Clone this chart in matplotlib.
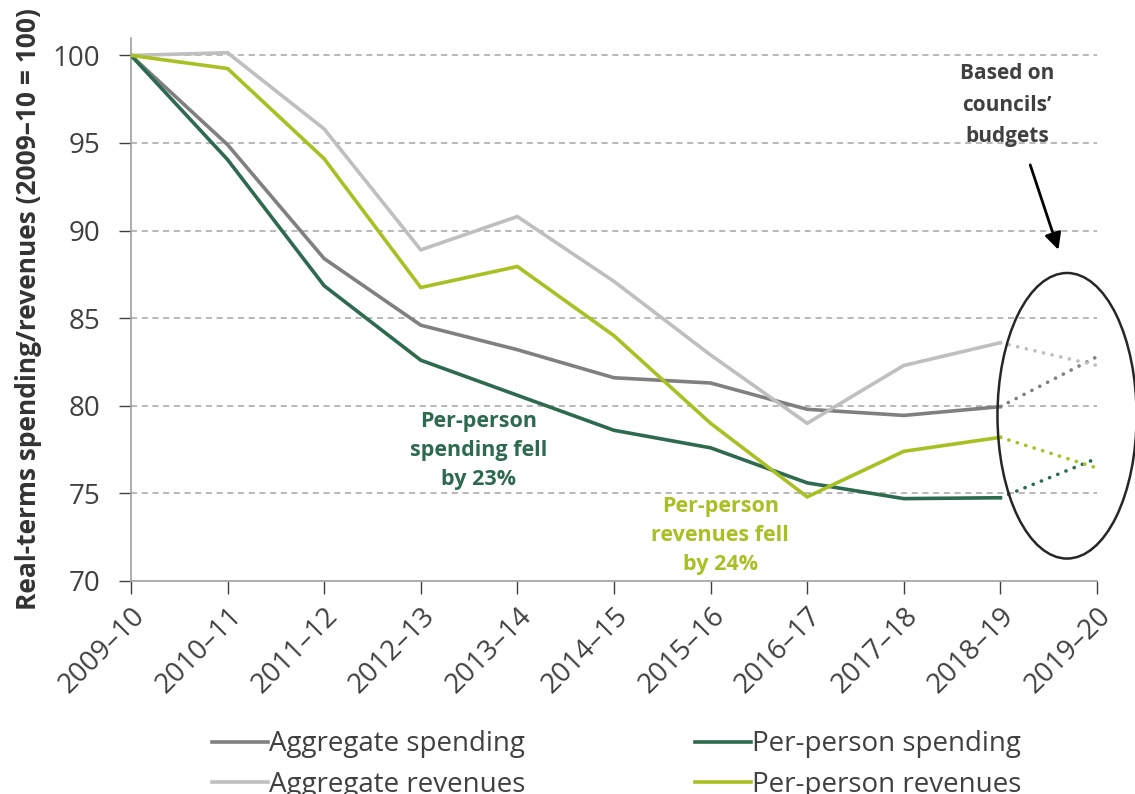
import matplotlib.pyplot as plt
from matplotlib.patches import Ellipse

plt.rcParams['font.family'] = ['Open Sans', 'DejaVu Sans']

years = ['2009–10', '2010–11', '2011–12', '2012–13', '2013–14', '2014–15',
         '2015–16', '2016–17', '2017–18', '2018–19', '2019–20']

# outturn up to 2018-19, last point is budgeted (dotted)
agg_spending = [100, 94.9, 88.4, 84.6, 83.2, 81.6, 81.3, 79.8, 79.45, 79.95, 82.8]
agg_revenues = [100, 100.15, 95.8, 88.9, 90.8, 87.1, 82.9, 79.0, 82.3, 83.6, 82.3]
pp_spending = [100, 94.05, 86.85, 82.6, 80.6, 78.6, 77.6, 75.6, 74.7, 74.75, 77.0]
pp_revenues = [100, 99.25, 94.1, 86.75, 87.95, 84.0, 79.0, 74.8, 77.4, 78.2, 76.45]

series = [
    ('Aggregate spending', agg_spending, '#808080'),
    ('Aggregate revenues', agg_revenues, '#BFBFBF'),
    ('Per-person spending', pp_spending, '#2D6A4F'),
    ('Per-person revenues', pp_revenues, '#A9C023'),
]

fig = plt.figure(figsize=(11.35, 7.94), dpi=100)
ax = fig.add_axes([0.1154, 0.2683, 0.8511, 0.684])

x = list(range(len(years)))
for label, vals, col in series:
    ax.plot(x[:-1], vals[:-1], color=col, lw=2.6, label=label,
            solid_joinstyle='miter', zorder=3)
    ax.plot(x[-2:], vals[-2:], color=col, lw=2.6, linestyle=(0, (0.05, 2.4)),
            dash_capstyle='round', zorder=3)

ax.set_xlim(0, 10)
ax.set_ylim(70, 101)
ax.set_yticks([70, 75, 80, 85, 90, 95, 100])
ax.set_xticks(x)
ax.set_xticklabels(years, rotation=45, ha='right', rotation_mode='anchor')
ax.tick_params(axis='both', labelsize=20, colors='#404040', length=9,
               width=1, direction='out')
ax.tick_params(axis='x', pad=6)
ax.tick_params(axis='y', pad=13)
for t in ax.get_xticklabels() + ax.get_yticklabels():
    t.set_color('#404040')
for tl in ax.xaxis.get_ticklines() + ax.yaxis.get_ticklines():
    tl.set_color('#A0A0A0')

for y in [75, 80, 85, 90, 95, 100]:
    ax.axhline(y, color='#A6A6A6', lw=1.1, linestyle=(0, (4, 3)), zorder=1)

for s in ['top', 'right']:
    ax.spines[s].set_visible(False)
for s in ['left', 'bottom']:
    ax.spines[s].set_color('#A0A0A0')
    ax.spines[s].set_linewidth(1.2)

ax.set_ylabel('Real-terms spending/revenues (2009–10 = 100)', fontsize=19,
              fontweight='bold', color='#333333', labelpad=8)

ax.text(3.6, 77.45, 'Per-person\nspending fell\nby 23%', color='#2D6A4F',
        fontsize=15.5, fontweight='bold', ha='center', va='center',
        linespacing=1.5)
ax.text(6.1, 72.6, 'Per-person\nrevenues fell\nby 24%', color='#A9C023',
        fontsize=15.5, fontweight='bold', ha='center', va='center',
        linespacing=1.5)
ax.text(9.07, 97.15, 'Based on\ncouncils\u2019\nbudgets', color='#404040',
        fontsize=15, fontweight='bold', ha='center', va='center',
        linespacing=1.65)

ax.annotate('', xy=(9.61, 88.75), xytext=(9.3, 93.9),
            arrowprops=dict(arrowstyle='-|>', color='black', lw=2,
                            mutation_scale=25), annotation_clip=False)

ell = Ellipse((9.69, 79.43), width=1.44, height=16.3, fill=False,
              edgecolor='#262626', lw=1.8, clip_on=False, zorder=4)
ax.add_patch(ell)

ax.legend(loc='upper left', bbox_to_anchor=(0.187, 0.080),
          bbox_transform=fig.transFigure, ncol=2, frameon=False,
          fontsize=20, handlelength=2.0, handletextpad=0.05,
          columnspacing=6.1, labelspacing=0.45, borderpad=0,
          borderaxespad=0, labelcolor='#404040')

fig.savefig('out.png', dpi=100)
